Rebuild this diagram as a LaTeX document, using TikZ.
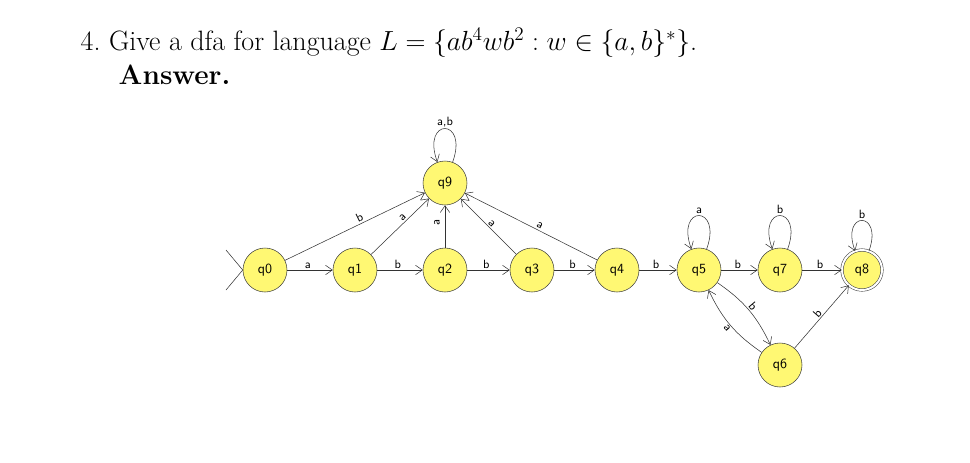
\documentclass[tikz,border=0pt]{standalone}
\usetikzlibrary{arrows.meta}
\begin{document}
\begin{tikzpicture}[x=0.75pt,y=-0.75pt,
  st/.style={circle,draw=black!75,fill=yellow!55,minimum size=33pt,inner sep=0pt,font=\sffamily\fontsize{10.5}{12}\selectfont},
  tr/.style={draw=black!80,-{Straight Barb[length=5pt,width=7pt]}},
  lb/.style={font=\sffamily\fontsize{9}{10}\selectfont,inner sep=1pt}]
\useasboundingbox (0,0) rectangle (970,462);
\node[anchor=west,font=\fontsize{21}{25}\selectfont] (title) at (76,43) {4.\ Give a dfa for language $L=\{ab^4wb^2 : w\in\{a,b\}^*\}$.};
\node[anchor=west,font=\fontsize{21}{25}\selectfont\bfseries] (ans) at (114,75) {Answer.};
\node[st] (q0) at (265,270) {q0};
\node[st] (q1) at (355,270) {q1};
\node[st] (q2) at (445,270) {q2};
\node[st] (q3) at (532,270) {q3};
\node[st] (q4) at (617,270) {q4};
\node[st] (q5) at (699,270) {q5};
\node[st] (q7) at (780,270) {q7};
\node[st,double=white,double distance=1.5pt,minimum size=30pt] (q8) at (862,270) {q8};
\node[st] (q9) at (445,183) {q9};
\node[st] (q6) at (780,365) {q6};
\coordinate (i1) at (226,250); \coordinate (i2) at (226,290);
\draw[black!80] (i1) -- (q0.west) -- (i2);
\draw[tr] (q0) -- node[lb,above,pos=0.45]{a} (q1);
\draw[tr] (q1) -- node[lb,above,pos=0.45]{b} (q2);
\draw[tr] (q2) -- node[lb,above,pos=0.45]{b} (q3);
\draw[tr] (q3) -- node[lb,above,pos=0.45]{b} (q4);
\draw[tr] (q4) -- node[lb,above,pos=0.45]{b} (q5);
\draw[tr] (q5) -- node[lb,above,pos=0.45]{b} (q7);
\draw[tr] (q7) -- node[lb,above,pos=0.45]{b} (q8);
\draw[tr] (q0) -- node[lb,above,sloped,pos=0.55]{b} (q9);
\draw[tr] (q1) -- node[lb,above,sloped,pos=0.6]{a} (q9);
\draw[tr] (q2) -- node[lb,pos=0.6,xshift=-6pt,rotate=90]{a} (q9);
\draw[tr] (q3) -- node[lb,above,sloped,pos=0.5]{a} (q9);
\draw[tr] (q4) -- node[lb,above,sloped,pos=0.45]{a} (q9);
\draw[tr] (q9) to[out=70,in=110,looseness=8] node[lb,above]{a,b} (q9);
\draw[tr] (q5) to[out=70,in=110,looseness=8] node[lb,above]{a} (q5);
\draw[tr] (q7) to[out=70,in=110,looseness=8] node[lb,above]{b} (q7);
\draw[tr] (q8) to[out=70,in=110,looseness=8] node[lb,above]{b} (q8);
\draw[tr] (q5) to[bend left=15] node[lb,above,sloped]{b} (q6);
\draw[tr] (q6) to[bend left=15] node[lb,below,sloped]{a} (q5);
\draw[tr] (q6) -- node[lb,above,sloped]{b} (q8);
\end{tikzpicture}
\end{document}
